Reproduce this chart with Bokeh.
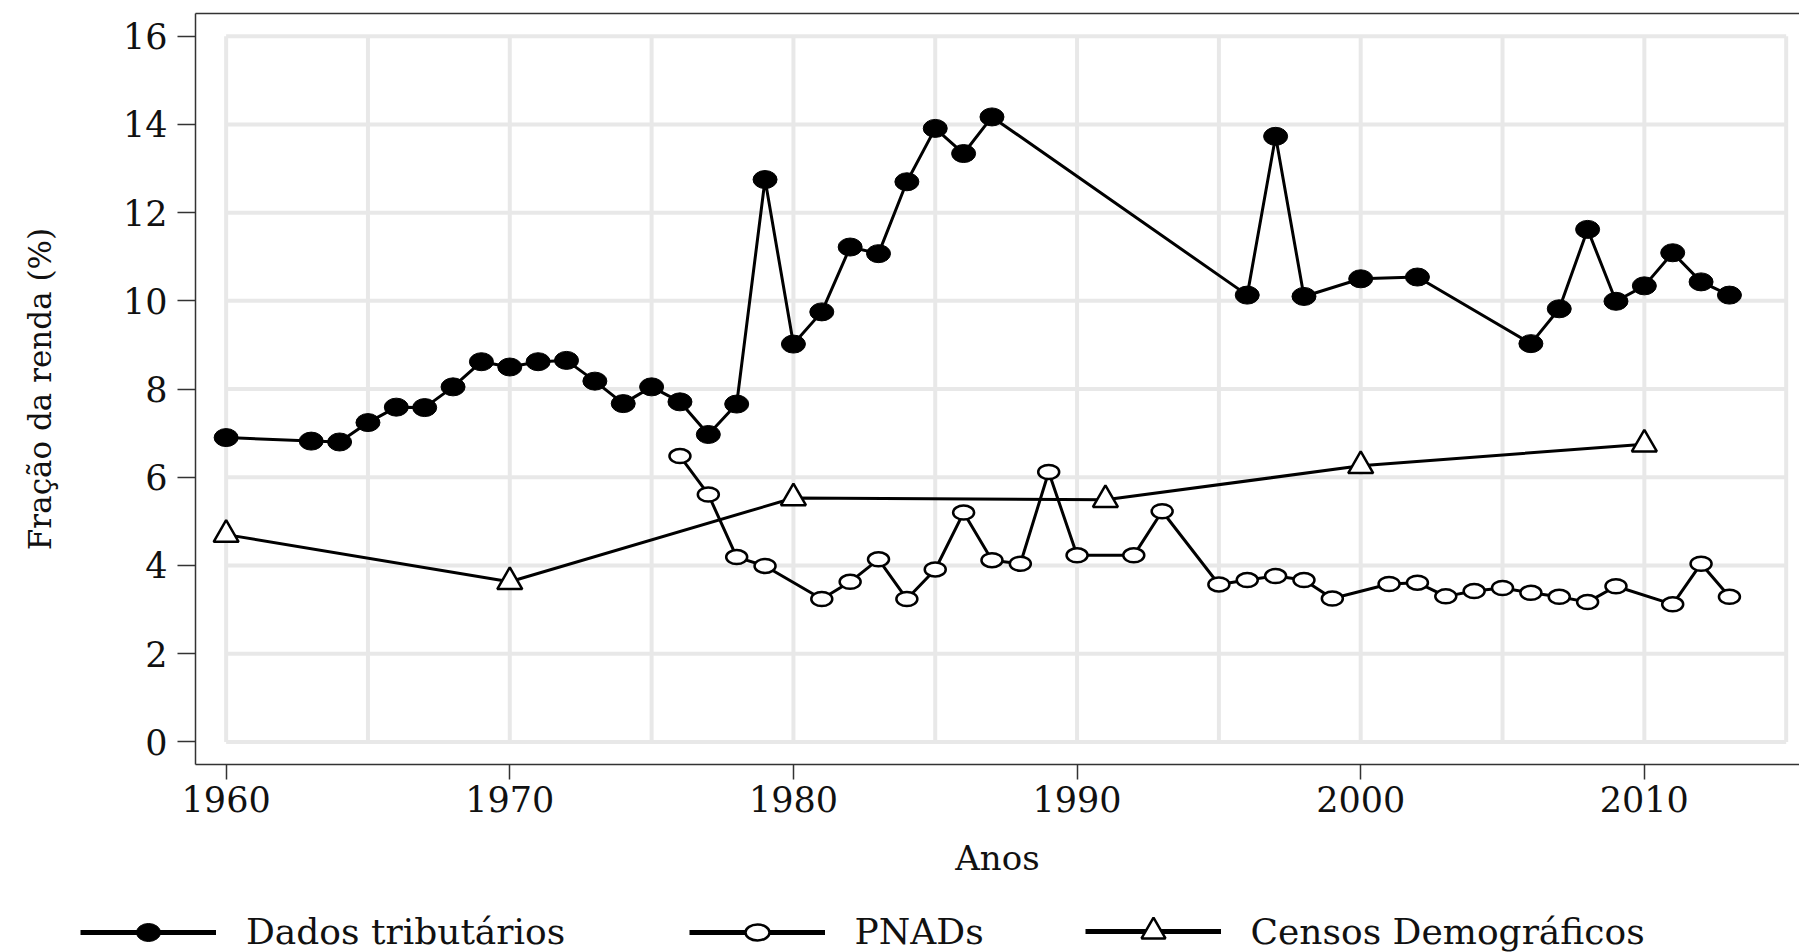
from bokeh.plotting import figure
from bokeh.layouts import column
from bokeh.models import Range1d, LinearAxis, FixedTicker, Legend, LegendItem
from bokeh.embed import file_html
from bokeh.resources import INLINE

# ---------------- data ----------------
anos_trib = [1960, 1963, 1964, 1965, 1966, 1967, 1968, 1969, 1970, 1971, 1972,
             1973, 1974, 1975, 1976, 1977, 1978, 1979, 1980, 1981, 1982, 1983,
             1984, 1985, 1986, 1987, 1996, 1997, 1998, 2000, 2002, 2006, 2007,
             2008, 2009, 2010, 2011, 2012, 2013]
trib = [6.90, 6.82, 6.80, 7.24, 7.59, 7.58, 8.05, 8.62, 8.50, 8.62, 8.65,
        8.18, 7.67, 8.05, 7.71, 6.97, 7.66, 12.75, 9.02, 9.75, 11.22, 11.07,
        12.70, 13.91, 13.34, 14.17, 10.13, 13.73, 10.10, 10.50, 10.54, 9.03, 9.82,
        11.62, 9.99, 10.34, 11.09, 10.43, 10.13]

anos_pnad = [1976, 1977, 1978, 1979, 1981, 1982, 1983, 1984, 1985, 1986, 1987,
             1988, 1989, 1990, 1992, 1993, 1995, 1996, 1997, 1998, 1999, 2001,
             2002, 2003, 2004, 2005, 2006, 2007, 2008, 2009, 2011, 2012, 2013]
pnad = [6.48, 5.61, 4.19, 3.99, 3.24, 3.63, 4.14, 3.24, 3.91, 5.20, 4.12,
        4.04, 6.12, 4.23, 4.23, 5.23, 3.57, 3.67, 3.76, 3.67, 3.25, 3.58,
        3.61, 3.30, 3.42, 3.49, 3.38, 3.29, 3.17, 3.53, 3.12, 4.04, 3.29]

anos_censo = [1960, 1970, 1980, 1991, 2000, 2010]
censo = [4.70, 3.63, 5.53, 5.49, 6.26, 6.75]

x_ticks = [1960, 1970, 1980, 1990, 2000, 2010]
y_ticks = [0, 2, 4, 6, 8, 10, 12, 14, 16]
grid_x = [1960, 1965, 1970, 1975, 1980, 1985, 1990, 1995, 2000, 2005, 2010, 2015]
grid_y = y_ticks
series_labels = ["Dados tributários", "PNADs", "Censos Demográficos"]

FONT = "DejaVu Serif"
AXC = "#333333"
GRID = "#e8e8e8"

# ---------------- main chart ----------------
p = figure(width=1799, height=882,
           x_range=Range1d(1958.92, 2015.47), y_range=Range1d(-0.512, 16.515),
           output_backend="svg", toolbar_location=None,
           min_border_left=195, min_border_right=0, min_border_top=13,
           min_border_bottom=118, outline_line_color=None,
           background_fill_color="white", border_fill_color="white")
p.frame_align = False
p.xgrid.visible = False
p.ygrid.visible = False

# grid box (Stata style, limited to the grid extent)
n_gx = len(grid_x)
n_gy = len(grid_y)
p.segment(x0=grid_x, y0=[grid_y[0]] * n_gx, x1=grid_x, y1=[grid_y[-1]] * n_gx,
          line_color=GRID, line_width=4)
p.segment(x0=[grid_x[0]] * n_gy, y0=grid_y, x1=[grid_x[-1]] * n_gy, y1=grid_y,
          line_color=GRID, line_width=4)

for ax in (p.xaxis[0], p.yaxis[0]):
    ax.axis_line_color = AXC
    ax.axis_line_width = 1.5
    ax.major_tick_line_color = AXC
    ax.major_tick_line_width = 1.5
    ax.major_tick_in = 0
    ax.minor_tick_line_color = None
    ax.major_label_text_font = FONT
    ax.major_label_text_color = "#111111"
    ax.axis_label_text_font = FONT
    ax.axis_label_text_font_style = "normal"
    ax.axis_label_text_color = "#111111"

p.xaxis.ticker = FixedTicker(ticks=x_ticks)
p.xaxis.major_tick_out = 15
p.xaxis.major_label_text_font_size = "35px"
p.xaxis.major_label_standoff = 6
p.xaxis.axis_label = "Anos"
p.xaxis.axis_label_text_font_size = "34px"
p.xaxis.axis_label_standoff = 23

p.yaxis.ticker = FixedTicker(ticks=y_ticks)
p.yaxis.major_tick_out = 18
p.yaxis.major_label_text_font_size = "35px"
p.yaxis.major_label_standoff = 10
p.yaxis.axis_label = "Fração da renda (%)"
p.yaxis.axis_label_text_font_size = "31px"
p.yaxis.axis_label_standoff = 62

top_axis = LinearAxis(ticker=FixedTicker(ticks=[]), axis_line_color=AXC,
                      axis_line_width=1.5, major_tick_out=0, major_tick_in=0,
                      minor_tick_out=0, minor_tick_in=0,
                      major_label_standoff=0, major_label_text_font_size="0px")
p.add_layout(top_axis, "above")


def draw_series(fig, lw):
    l1 = fig.line(anos_trib, trib, line_color="black", line_width=lw)
    m1 = fig.ellipse(x=anos_trib, y=trib, width=24, height=18,
                     width_units="screen", height_units="screen",
                     fill_color="black", line_color="black")
    l2 = fig.line(anos_pnad, pnad, line_color="black", line_width=lw)
    m2 = fig.ellipse(x=anos_pnad, y=pnad, width=21, height=14,
                     width_units="screen", height_units="screen",
                     fill_color="white", line_color="black", line_width=2.5)
    l3 = fig.line(anos_censo, censo, line_color="black", line_width=lw)
    m3 = fig.scatter(anos_censo, censo, marker="triangle", size=25,
                     fill_color="white", line_color="black", line_width=2.5)
    return [[l1, m1], [l2, m2], [l3, m3]]


draw_series(p, 3)

# ---------------- legend strip (series kept out of its view) ----------------
q = figure(width=1799, height=70, x_range=Range1d(0, 1), y_range=Range1d(0, 1),
           output_backend="svg", toolbar_location=None,
           x_axis_location=None, y_axis_location=None,
           min_border_left=0, min_border_right=0, min_border_top=0,
           min_border_bottom=0, outline_line_color=None,
           background_fill_color="white", border_fill_color="white")
q.frame_align = False
q.xgrid.visible = False
q.ygrid.visible = False
leg_rends = draw_series(q, 5)

leg_specs = [(80, 30, 0), (688.6, 30, 0), (1084.5, 60, -9)]
for lbl, rends, (vx, gh, vy) in zip(series_labels, leg_rends, leg_specs):
    leg = Legend(items=[LegendItem(label=lbl, renderers=rends)],
                 location=(vx, vy), orientation="horizontal",
                 glyph_width=136, glyph_height=gh, label_standoff=30,
                 padding=0, margin=0, spacing=0,
                 border_line_color=None, background_fill_alpha=0,
                 label_text_font=FONT, label_text_font_size="36px",
                 label_text_color="#111111")
    q.add_layout(leg, "center")

layout = column(p, q, spacing=0)
open("out.html", "w").write(file_html(layout, INLINE))
